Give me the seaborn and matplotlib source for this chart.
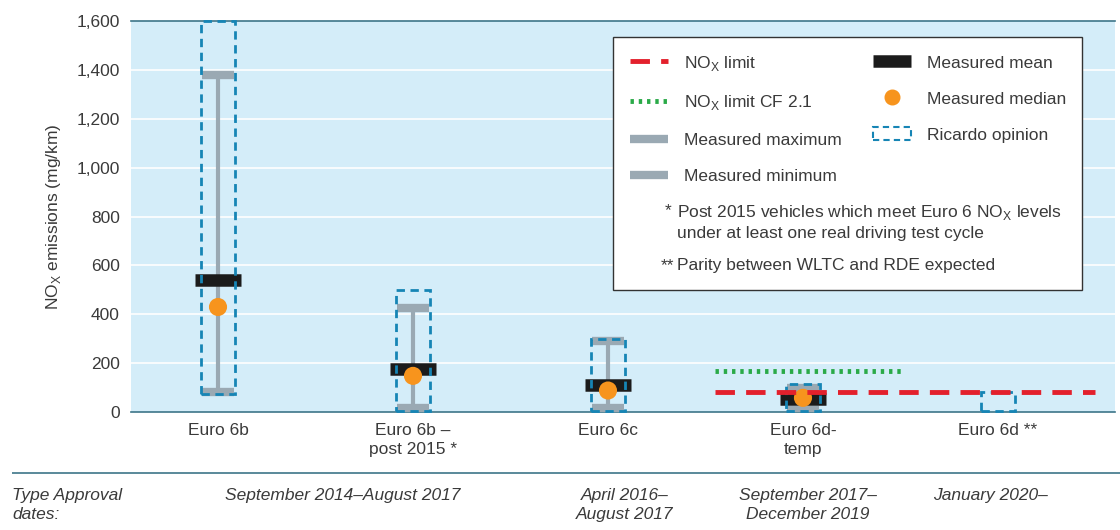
import numpy as np
import matplotlib.pyplot as plt
import seaborn as sns
from matplotlib.lines import Line2D
from matplotlib.patches import Rectangle, Patch

# ---- data (mg/km) ----
categories = ["Euro 6b", "Euro 6b –\npost 2015 *", "Euro 6c", "Euro 6d-\ntemp", "Euro 6d **"]
meas_max = [1380, 425, 290, 100, np.nan]
meas_min = [80, 15, 15, 10, np.nan]
meas_mean = [540, 175, 110, 55, np.nan]
meas_median = [430, 148, 88, 58, np.nan]
ricardo_low = [75, 3, 3, 3, 3]
ricardo_high = [1600, 500, 300, 115, 80]
nox_limit = 80
conformity_factor = 2.1
approval_dates = ["September 2014–August 2017", "April 2016–\nAugust 2017",
                  "September 2017–\nDecember 2019", "January 2020–"]

# colours
bg = '#d4edf9'
teal = '#3d7689'
grey = '#9aa9b3'
orange = '#f7941d'
blue = '#1685b5'
red = '#e3202c'
green = '#2aaa48'
txt = '#3a3a3a'

sns.set_theme(style='white')
plt.rcParams['font.family'] = ['Liberation Sans', 'DejaVu Sans']
plt.rcParams['text.color'] = txt
plt.rcParams['axes.labelcolor'] = txt
plt.rcParams['xtick.color'] = txt
plt.rcParams['ytick.color'] = txt
plt.rcParams['lines.solid_capstyle'] = 'butt'

fig = plt.figure(figsize=(11.2, 5.3), dpi=100)
ax = fig.add_axes([0.117, 0.2226, 0.8785, 0.7374])
ax.set_facecolor(bg)

pos = np.arange(len(categories))

# white gridlines
for yv in range(200, 1600, 200):
    ax.axhline(yv, color='white', lw=1.2, zorder=1)

# whiskers (measured min - max)
ax.vlines(pos, meas_min, meas_max, color=grey, lw=3, zorder=3, capstyle='butt')
ax.hlines(meas_max, pos - 0.082, pos + 0.082, color=grey, lw=6, zorder=3, capstyle='butt')
ax.hlines(meas_min, pos - 0.082, pos + 0.082, color=grey, lw=6, zorder=3, capstyle='butt')

# measured mean bars
ax.hlines(meas_mean, pos - 0.12, pos + 0.12, color='#1b1b1b', lw=9, zorder=4, capstyle='butt')

# medians
sns.scatterplot(x=pos, y=meas_median, color=orange, s=170, edgecolor='none',
                zorder=5, ax=ax, legend=False)

# Ricardo opinion boxes
for p, lo, hi in zip(pos, ricardo_low, ricardo_high):
    ax.add_patch(Rectangle((p - 0.085, lo), 0.17, hi - lo, fill=False,
                           edgecolor=blue, lw=2, linestyle=(0, (3, 2)),
                           zorder=6, clip_on=False))

# NOx limit lines
sns.lineplot(x=[pos[3] - 0.45, pos[4] + 0.5], y=[nox_limit, nox_limit], color=red,
             lw=3.5, linestyle=(0, (4, 2.3)), ax=ax, zorder=7)
cf = nox_limit * conformity_factor
sns.lineplot(x=[pos[3] - 0.45, pos[3] + 0.52], y=[cf, cf], color=green,
             lw=3.5, linestyle=(0, (0.7, 1.0)), ax=ax, zorder=7)

ax.set_xlim(-0.446, 4.6)
ax.set_ylim(0, 1600)
ax.set_yticks(range(0, 1601, 200))
ax.set_yticklabels([f'{v:,}' for v in range(0, 1601, 200)], fontsize=12.5)
ax.set_xticks(pos)
ax.set_xticklabels(categories, fontsize=12.5, linespacing=1.35)
ax.tick_params(axis='both', length=0)
ax.tick_params(axis='y', pad=8)
ax.tick_params(axis='x', pad=8)
ax.set_ylabel('NO$_\\mathregular{X}$ emissions (mg/km)', fontsize=12.5, labelpad=10)
for s in ['left', 'right']:
    ax.spines[s].set_visible(False)
for s in ['top', 'bottom']:
    ax.spines[s].set_color(teal)
    ax.spines[s].set_linewidth(1.2)

# legend box
ax.add_patch(Rectangle((0.49, 0.312), 0.476, 0.647, transform=ax.transAxes,
                       facecolor='white', edgecolor='#333333', lw=1, zorder=8))
handles = [
    Line2D([], [], color=red, lw=3.5, linestyle=(0, (4, 2.3))),
    Line2D([], [], color=green, lw=3.5, linestyle=(0, (0.7, 1.0))),
    Line2D([], [], color=grey, lw=6),
    Line2D([], [], color=grey, lw=6),
    Line2D([], [], color='#1b1b1b', lw=9),
    Line2D([], [], color=orange, marker='o', markersize=10.5, lw=0),
    Patch(facecolor='none', edgecolor=blue, lw=1.5, linestyle=(0, (3, 2))),
    Line2D([], [], lw=0),
]
labels = ['NO$_\\mathregular{X}$ limit', 'NO$_\\mathregular{X}$ limit CF 2.1',
          'Measured maximum', 'Measured minimum',
          'Measured mean', 'Measured median', 'Ricardo opinion', '']
leg = ax.legend(handles, labels, ncol=2, loc='upper left', bbox_to_anchor=(0.5, 0.935),
                frameon=False, fontsize=12.5, labelspacing=1.2, handlelength=2.2,
                handletextpad=0.9, columnspacing=1.8, borderaxespad=0)
leg.set_zorder(9)

ax.text(0.542, 0.535, '*', transform=ax.transAxes, fontsize=12.5, zorder=9, va='top')
ax.text(0.555, 0.535, 'Post 2015 vehicles which meet Euro 6 NO$_\\mathregular{X}$ levels\n'
        'under at least one real driving test cycle', transform=ax.transAxes,
        fontsize=12.5, zorder=9, va='top', linespacing=1.3)
ax.text(0.538, 0.395, '**', transform=ax.transAxes, fontsize=12.5, zorder=9, va='top')
ax.text(0.555, 0.395, 'Parity between WLTC and RDE expected', transform=ax.transAxes,
        fontsize=12.5, zorder=9, va='top')

# type approval dates below the chart
fig.add_artist(Line2D([12 / 1120, 1], [0.1075, 0.1075], color=teal, lw=1.2))
fig.text(12 / 1120, 0.08, 'Type Approval\ndates:', fontsize=12.5, style='italic',
         va='top', ha='left', linespacing=1.35)
date_x = [343, 625, 808, 990]
for dx, lab in zip(date_x, approval_dates):
    fig.text(dx / 1120, 0.08, lab, fontsize=12.5, style='italic', va='top',
             ha='center', linespacing=1.35)

plt.savefig('out.png', dpi=100)
